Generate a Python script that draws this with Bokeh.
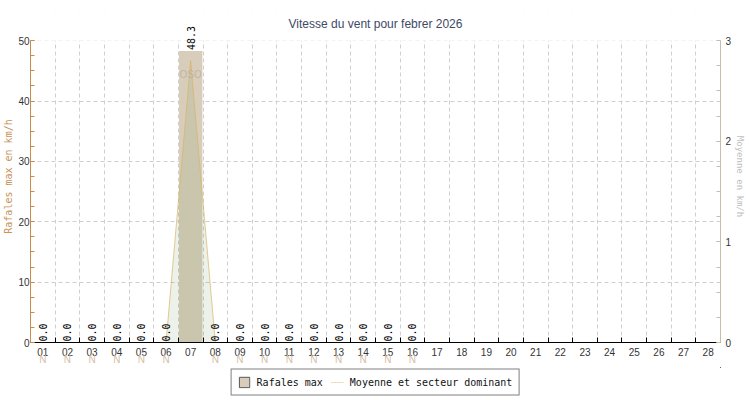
from bokeh.plotting import figure
from bokeh.layouts import column
from bokeh.models import (Range1d, LinearAxis, FixedTicker, ColumnDataSource, LabelSet, Label,
                          Legend, LegendItem, Grid, BoxAnnotation)
from bokeh.core.properties import value
from bokeh.embed import file_html
from bokeh.resources import INLINE

# ---- data ----
days = list(range(1, 29))
day_labels = ["%02d" % d for d in days]
gusts = [0.0, 0.0, 0.0, 0.0, 0.0, 0.0, 48.3, 0.0, 0.0, 0.0, 0.0, 0.0, 0.0, 0.0, 0.0, 0.0] + [None] * 12
mean = [0.0, 0.0, 0.0, 0.0, 0.0, 0.0, 2.8, 0.0, 0.0, 0.0, 0.0, 0.0, 0.0, 0.0, 0.0, 0.0] + [None] * 12
directions = ["N", "N", "N", "N", "N", "N", "OSO", "N", "N", "N", "N", "N", "N", "N", "N", "N"] + [None] * 12
left_ticks = [0, 10, 20, 30, 40, 50]
right_ticks = [0, 1, 2, 3]
title = "Vitesse du vent pour febrer 2026"
left_label = "Rafales max en km/h"
right_label = "Moyenne en km/h"
gust_name = "Rafales max"
mean_name = "Moyenne et secteur dominant"

MONO = "DejaVu Sans Mono"
SANS = "Liberation Sans"
TAN_AXIS = "#c98c4c"
RIGHT_AXIS = "#c8bea8"
BAR = "#d8cdbb"

# frame extends above the top tick so the rotated value labels and the title fit inside it
L_MAX = left_ticks[-1]
R_MAX = right_ticks[-1]
HEADROOM = 1.1
TITLE_Y = L_MAX * 1.056

valid = [i for i, g in enumerate(gusts) if g is not None]
src = ColumnDataSource(dict(
    x=[days[i] for i in valid],
    g=[gusts[i] for i in valid],
    m=[mean[i] for i in valid],
    z=[0.0 for i in valid],
    lbl=["%.1f" % gusts[i] for i in valid],
))
dir_idx = [i for i in valid if mean[i] > 0]
dir_src = ColumnDataSource(dict(x=[days[i] for i in dir_idx], m=[mean[i] for i in dir_idx],
                                d=[directions[i] for i in dir_idx]))

W = 748
p = figure(width=W, height=367, output_backend="svg", toolbar_location=None, title=None,
           x_range=Range1d(0.5, len(days) + 0.5), y_range=Range1d(0, L_MAX * HEADROOM),
           x_axis_type=None, y_axis_type=None, min_border_left=0, min_border_right=0,
           min_border_top=10, min_border_bottom=0, outline_line_color=None)
p.extra_y_ranges = {"mean": Range1d(0, R_MAX * HEADROOM)}

boundaries = [d + 0.5 for d in range(0, len(days) + 1)]
vgrid = Grid(dimension=0, ticker=FixedTicker(ticks=boundaries), grid_line_color="#cfcfcf",
             grid_line_dash="4 3", grid_line_width=1)
hgrid = Grid(dimension=1, ticker=FixedTicker(ticks=left_ticks[1:]), grid_line_color="#cfcfcf",
             grid_line_dash="4 3", grid_line_width=1)
p.add_layout(vgrid)
p.add_layout(hgrid)
# hide grid above the top tick
p.add_layout(BoxAnnotation(bottom=L_MAX, fill_color="white", fill_alpha=1.0,
                           line_color=None, level="underlay"))

# left axis
ly = LinearAxis(bounds=(0, L_MAX),
                ticker=FixedTicker(ticks=left_ticks, minor_ticks=[x * 2.5 for x in range(0, 21)]),
                axis_line_color=TAN_AXIS, major_tick_line_color=TAN_AXIS,
                minor_tick_line_color=TAN_AXIS, major_tick_in=4, major_tick_out=0,
                minor_tick_in=4, minor_tick_out=0, major_label_standoff=1,
                major_label_text_font=SANS, major_label_text_font_size="10px",
                major_label_text_color="#333333",
                axis_label=left_label, axis_label_text_font=MONO,
                axis_label_text_font_size="10px", axis_label_text_font_style="normal",
                axis_label_text_color="#c8945a", axis_label_standoff=1)
p.add_layout(ly, "left")

# right axis
ry = LinearAxis(y_range_name="mean", bounds=(0, R_MAX),
                ticker=FixedTicker(ticks=right_ticks, minor_ticks=[x * 0.25 for x in range(0, 13)]),
                axis_line_color=RIGHT_AXIS, major_tick_line_color=RIGHT_AXIS,
                minor_tick_line_color=RIGHT_AXIS, major_tick_in=4, major_tick_out=0,
                minor_tick_in=4, minor_tick_out=0, major_label_standoff=5,
                major_label_text_font=SANS, major_label_text_font_size="10px",
                major_label_text_color="#333333",
                axis_label=right_label, axis_label_text_font=MONO,
                axis_label_text_font_size="9px", axis_label_text_font_style="normal",
                axis_label_text_color="#c0c0c0", axis_label_standoff=1)
p.add_layout(ry, "right")

# bottom axes: ticks at boundaries, labels at centers, direction labels
ax_ticks = LinearAxis(ticker=FixedTicker(ticks=boundaries, minor_ticks=[]),
                      axis_line_color="black", major_tick_line_color="black",
                      major_tick_in=5, major_tick_out=0, major_label_text_font_size="1px",
                      major_label_text_color=None, major_label_standoff=0)
ax_days = LinearAxis(ticker=FixedTicker(ticks=days, minor_ticks=[]),
                     axis_line_color=None, major_tick_line_color=None,
                     major_tick_in=0, major_tick_out=0, major_label_standoff=5,
                     major_label_overrides={d: l for d, l in zip(days, day_labels)},
                     major_label_text_font=SANS, major_label_text_font_size="10px",
                     major_label_text_color="#333333")
n_days = [days[i] for i in valid if mean[i] == 0]
ax_dir = LinearAxis(ticker=FixedTicker(ticks=n_days, minor_ticks=[]),
                    axis_line_color=None, major_tick_line_color=None,
                    major_tick_in=0, major_tick_out=0, major_label_standoff=-5,
                    major_label_overrides={days[i]: directions[i] for i in valid if mean[i] == 0},
                    major_label_text_font=SANS, major_label_text_font_size="10px",
                    major_label_text_color="#d4bea6")
p.add_layout(ax_ticks, "below")
p.add_layout(ax_days, "below")
p.add_layout(ax_dir, "below")

# glyphs
bars = p.vbar(x="x", top="g", width=0.95, source=src, fill_color=BAR, line_color=None)
area = p.varea(x="x", y1="z", y2="m", source=src, y_range_name="mean",
               fill_color="#5f9747", fill_alpha=0.12)
ln = p.line(x="x", y="m", source=src, y_range_name="mean", line_color="#dcb464",
            line_alpha=0.7, line_width=1)
p.text(x="x", y="m", text="d", source=dir_src, y_range_name="mean", y_offset=14,
       text_align="center", text_baseline="middle", text_font=value(SANS),
       text_font_size="10px", text_color="#b8ae9c", text_alpha=0.8)

labels = LabelSet(x="x", y="g", text="lbl", source=src, angle=90, angle_units="deg",
                  text_align="left", text_baseline="middle", y_offset=1,
                  text_font=value(MONO), text_font_size="10px", text_color="black")
p.add_layout(labels)

p.add_layout(Label(x=(p.x_range.start + p.x_range.end) / 2, y=TITLE_Y, text=title,
                   text_align="center", text_baseline="middle", text_font=SANS,
                   text_font_size="12px", text_color="#3e4a66"))

# legend in its own strip below the chart; its proxy renderers use the same data,
# but the strip's ranges lie outside the data so only the legend shows
lf = figure(width=W, height=30, output_backend="svg", toolbar_location=None,
            x_range=Range1d(-3, -2), y_range=Range1d(-3, -2), x_axis_type=None, y_axis_type=None,
            min_border_left=0, min_border_right=0, min_border_top=0, min_border_bottom=0,
            outline_line_color=None)
proxy_bar = lf.vbar(x="x", top="g", width=0.95, source=src,
                    fill_color=BAR, line_color="#555555")
proxy_line = lf.line(x="x", y="m", source=src, line_color="#ece0c4", line_width=1)
legend = Legend(items=[LegendItem(label=gust_name, renderers=[proxy_bar]),
                       LegendItem(label=mean_name, renderers=[proxy_line])],
                orientation="horizontal", location="center",
                border_line_color="black", border_line_width=1,
                label_text_font=MONO, label_text_font_size="10px", label_text_color="#111111",
                glyph_width=13, glyph_height=13, label_standoff=6, spacing=8,
                padding=6, margin=0, label_height=13, background_fill_color="white")
lf.add_layout(legend, "center")

layout = column(p, lf, spacing=0)
open("out.html", "w").write(file_html(layout, INLINE))
